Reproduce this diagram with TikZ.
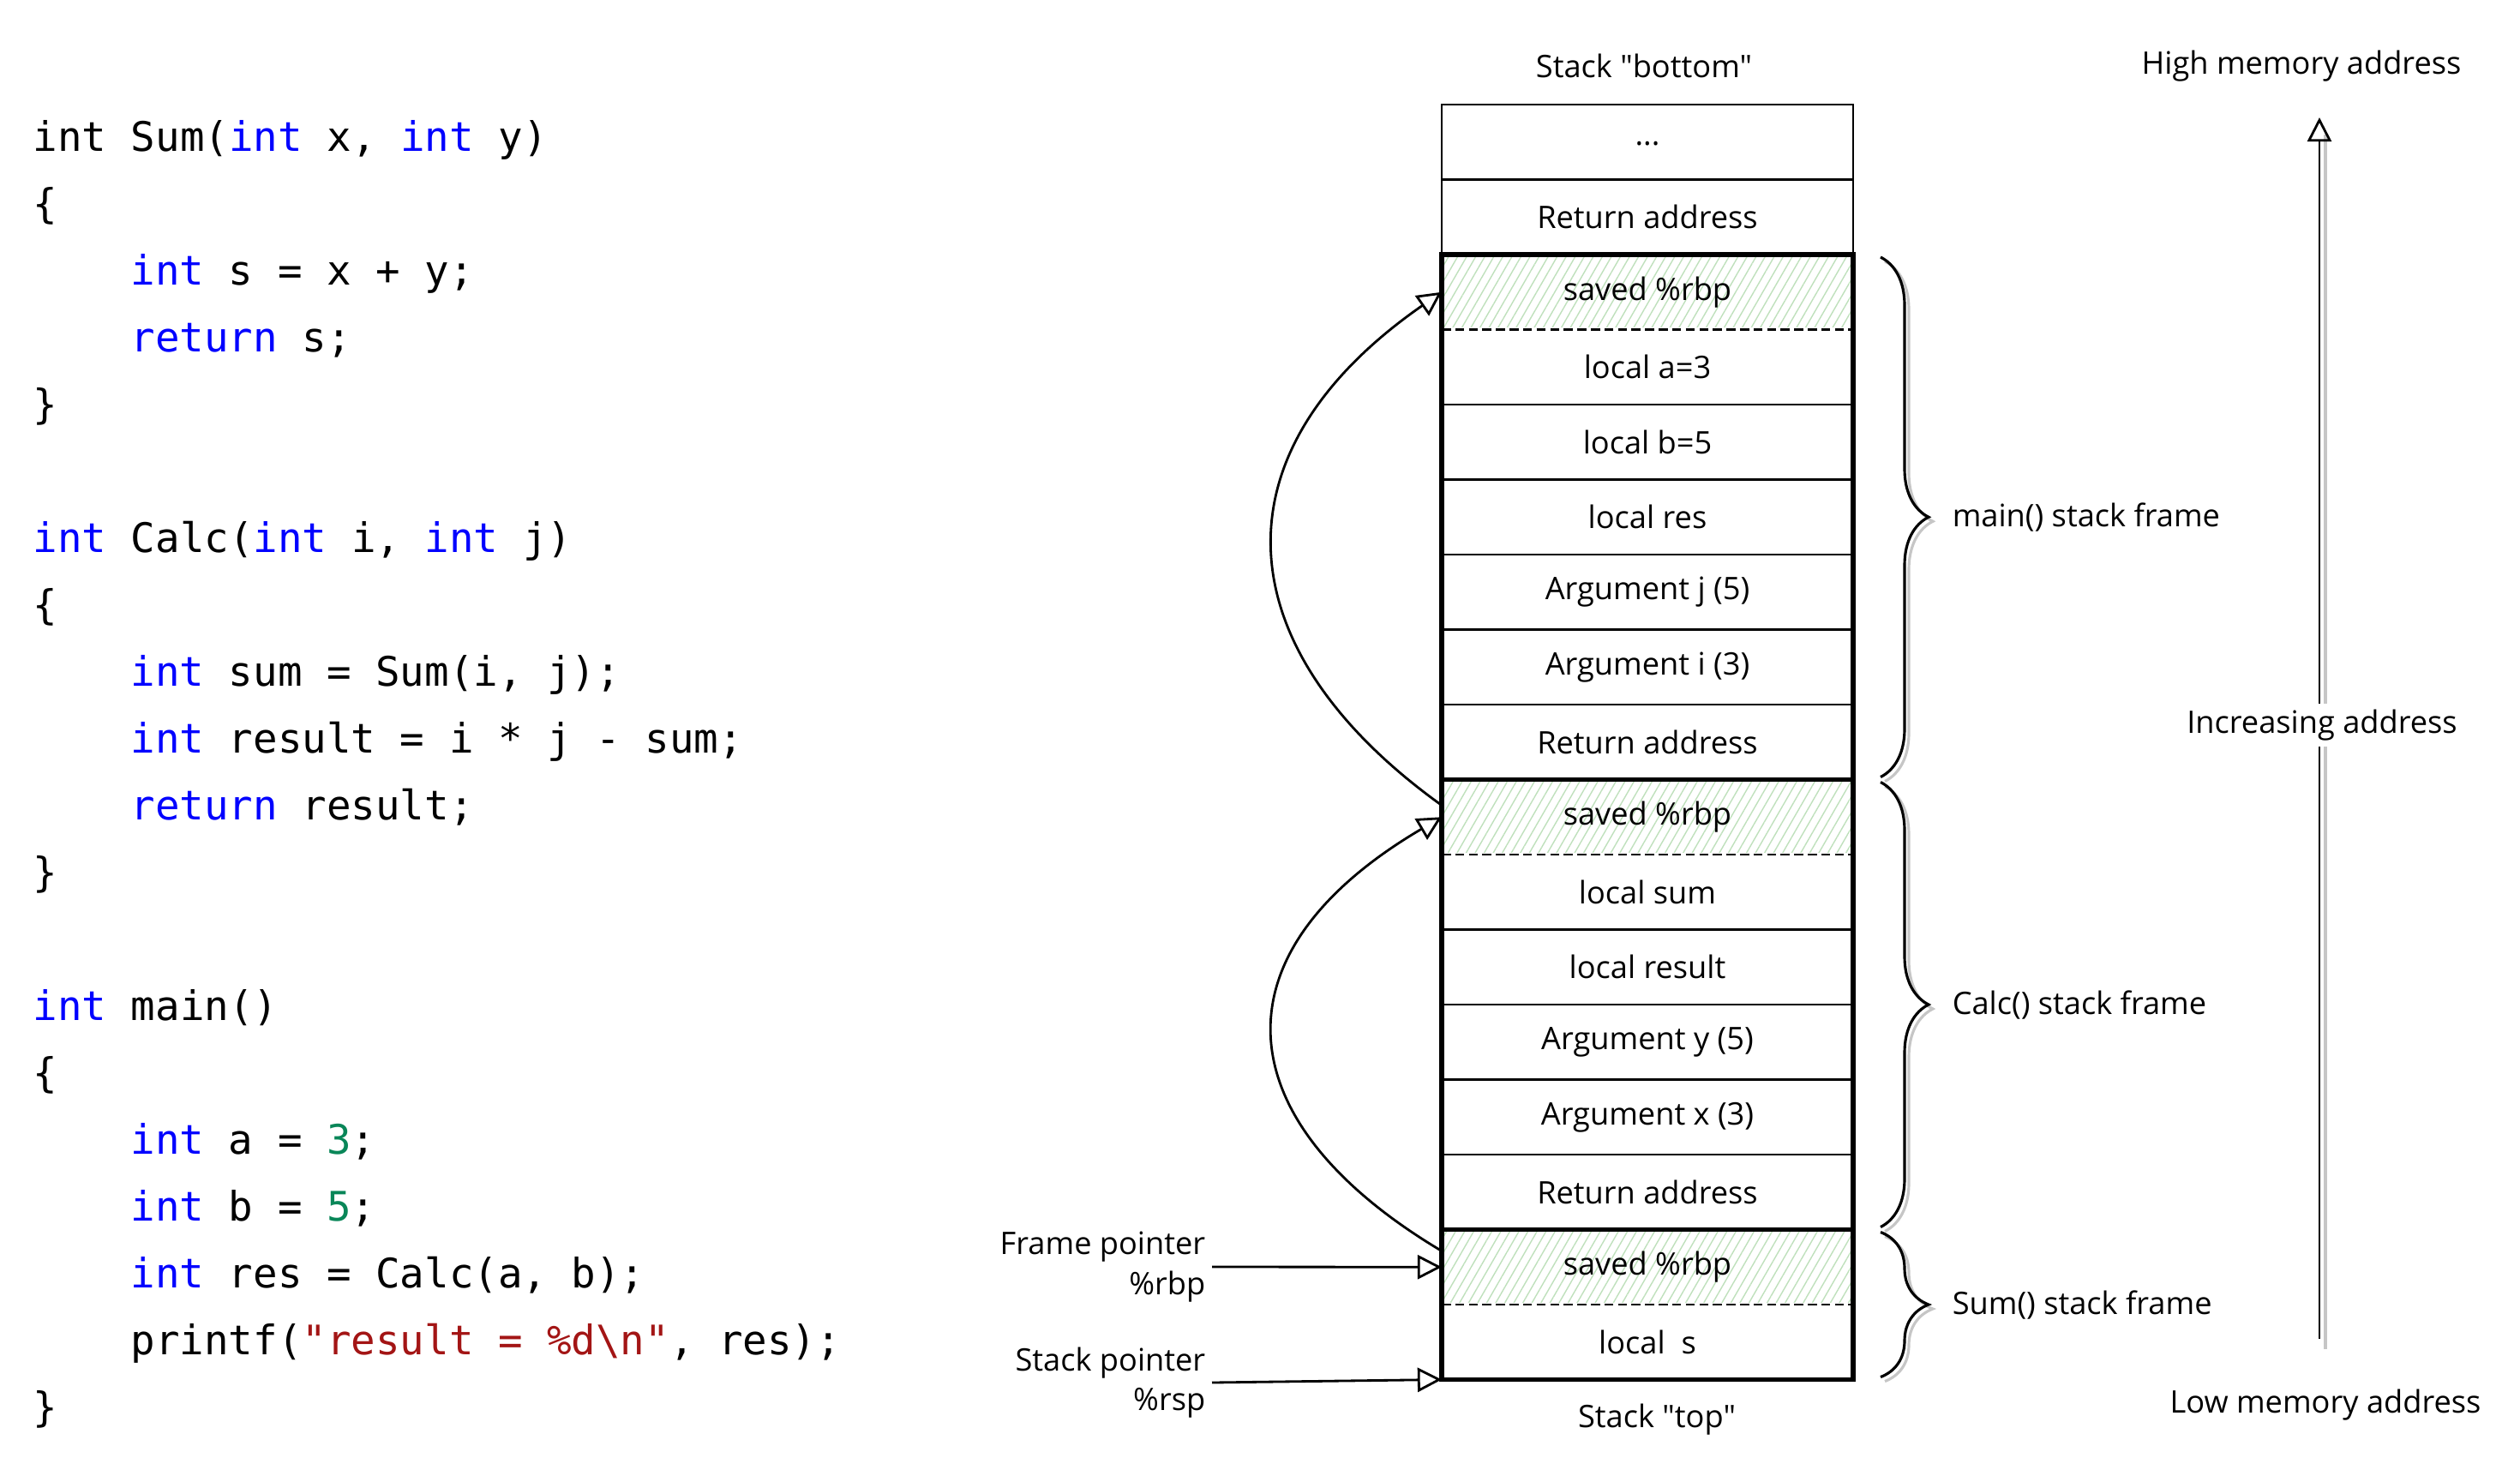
\documentclass[tikz,border=0pt]{standalone}
\usepackage{fontspec}
\setmainfont{Open Sans}[Ligatures=TeXOff]
\setmonofont{DejaVu Sans Mono}
\usepackage{tikz}
\usetikzlibrary{arrows.meta, positioning, calc, decorations.pathreplacing, patterns.meta}
\definecolor{kwBlue}{HTML}{0000FF}
\definecolor{numGreen}{HTML}{098658}
\definecolor{strRed}{HTML}{A31515}
\definecolor{hatchGreen}{HTML}{BFE0BC}
\newcommand{\kwd}[1]{\textcolor{kwBlue}{#1}}
\newcommand{\nmb}[1]{\textcolor{numGreen}{#1}}
\newcommand{\strl}[1]{\textcolor{strRed}{#1}}
\tikzstyle{codeline} = [anchor=base west, inner sep=0pt, font=\ttfamily\fontsize{13.5}{16}\selectfont]
\tikzstyle{lbl} = [inner sep=2pt, font=\fontsize{10.3}{13.3}\selectfont]
\tikzstyle{slot} = [rectangle, draw, line width=0.7pt, minimum width=4.8cm, minimum height=0.875cm,
  inner sep=0pt, outer sep=0pt, font=\fontsize{10.3}{12}\selectfont]
\tikzstyle{savedslot} = [slot, pattern={Lines[angle=60,distance=2.6pt,line width=0.4pt]}, pattern color=hatchGreen]
\tikzstyle{frame} = [line width=1.5pt]
\tikzstyle{brc} = [decorate, decoration={brace, amplitude=0.56cm}, line width=0.9pt]
\tikzstyle{brcshade} = [brc, draw=gray!45, transform canvas={shift={(0.05,-0.05)}}]
\tikzstyle{ptr} = [-{Triangle[open, length=8pt, width=8pt]}, line width=0.8pt]

\begin{document}
\begin{tikzpicture}
  \useasboundingbox (0,0) rectangle (29.4,-17.28);

  % Source code
  \node[codeline] (sum1) at (0.38,-1.76) {int Sum(\kwd{int} x, \kwd{int} y)};
  \node[codeline] (sum2) at (0.38,-2.54) {\{};
  \node[codeline] (sum3) at (1.52,-3.32) {\kwd{int} s = x + y;};
  \node[codeline] (sum4) at (1.52,-4.10) {\kwd{return} s;};
  \node[codeline] (sum5) at (0.38,-4.88) {\}};

  \node[codeline] (calc1) at (0.38,-6.44) {\kwd{int} Calc(\kwd{int} i, \kwd{int} j)};
  \node[codeline] (calc2) at (0.38,-7.22) {\{};
  \node[codeline] (calc3) at (1.52,-8.00) {\kwd{int} sum = Sum(i, j);};
  \node[codeline] (calc4) at (1.52,-8.78) {\kwd{int} result = i * j - sum;};
  \node[codeline] (calc5) at (1.52,-9.56) {\kwd{return} result;};
  \node[codeline] (calc6) at (0.38,-10.34) {\}};

  \node[codeline] (main1) at (0.38,-11.90) {\kwd{int} main()};
  \node[codeline] (main2) at (0.38,-12.68) {\{};
  \node[codeline] (main3) at (1.52,-13.46) {\kwd{int} a = \nmb{3};};
  \node[codeline] (main4) at (1.52,-14.24) {\kwd{int} b = \nmb{5};};
  \node[codeline] (main5) at (1.52,-15.02) {\kwd{int} res = Calc(a, b);};
  \node[codeline] (main6) at (1.52,-15.80) {printf(\strl{"result = \%d\textbackslash n"}, res);};
  \node[codeline] (main7) at (0.38,-16.58) {\}};

  % Stack slots
  \node[lbl] (bottomlbl) at (19.18,-0.77) {Stack "bottom"};
  \node[slot] (etc) at (19.22,-1.6575) {\raisebox{-2pt}{...}};
  \node[slot, below=0pt of etc] (ret0) {Return address};
  \node[savedslot, below=0pt of ret0] (mrbp) {saved \%rbp};
  \node[slot, below=0pt of mrbp] (ma) {local a=3};
  \node[slot, below=0pt of ma] (mb) {local b=5};
  \node[slot, below=0pt of mb] (mres) {local res};
  \node[slot, below=0pt of mres] (mj) {Argument j (5)};
  \node[slot, below=0pt of mj] (mi) {Argument i (3)};
  \node[slot, below=0pt of mi] (mret) {Return address};
  \node[savedslot, below=0pt of mret] (crbp) {saved \%rbp};
  \node[slot, below=0pt of crbp] (csum) {local sum};
  \node[slot, below=0pt of csum] (cres) {local result};
  \node[slot, below=0pt of cres] (cy) {Argument y (5)};
  \node[slot, below=0pt of cy] (cx) {Argument x (3)};
  \node[slot, below=0pt of cx] (cret) {Return address};
  \node[savedslot, below=0pt of cret] (srbp) {saved \%rbp};
  \node[slot, below=0pt of srbp] (ss) {local~~s};
  \node[lbl] (toplbl) at (19.33,-16.56) {Stack "top"};

  \foreach \r in {mrbp, crbp, srbp} {
    \draw[white, line width=1.2pt] (\r.south west) -- (\r.south east);
    \draw[line width=0.7pt, dash pattern=on 3pt off 1.5pt] (\r.south west) -- (\r.south east);
  }

  % Frames
  \draw[frame] (mrbp.north west) rectangle (mret.south east);
  \draw[frame] (crbp.north west) rectangle (cret.south east);
  \draw[frame] (srbp.north west) rectangle (ss.south east);

  % Braces
  \draw[brcshade] ($(mrbp.north east)+(0.32,-0.03)$) -- ($(mret.south east)+(0.32,0.03)$);
  \draw[brcshade] ($(crbp.north east)+(0.32,-0.03)$) -- ($(cret.south east)+(0.32,0.03)$);
  \draw[brcshade] ($(srbp.north east)+(0.32,-0.03)$) -- ($(ss.south east)+(0.32,0.03)$);
  \draw[brc] ($(mrbp.north east)+(0.32,-0.03)$) -- ($(mret.south east)+(0.32,0.03)$);
  \draw[brc] ($(crbp.north east)+(0.32,-0.03)$) -- ($(cret.south east)+(0.32,0.03)$);
  \draw[brc] ($(srbp.north east)+(0.32,-0.03)$) -- ($(ss.south east)+(0.32,0.03)$);
  \node[lbl, anchor=west] (lmain) at ($(mrbp.north east)!0.5!(mret.south east)+(1.08,0)$) {main() stack frame};
  \node[lbl, anchor=west] (lcalc) at ($(crbp.north east)!0.5!(cret.south east)+(1.08,0)$) {Calc() stack frame};
  \node[lbl, anchor=west] (lsum) at ($(srbp.north east)!0.5!(ss.south east)+(1.08,0)$) {Sum() stack frame};

  % Saved frame pointer links
  \draw[ptr] ($(crbp.north west)+(0,-0.3)$) .. controls +(-2.52,1.81) and +(-2.72,-1.89) .. (mrbp.west);
  \draw[ptr] ($(srbp.north west)+(0,-0.25)$) .. controls +(-2.52,1.5) and +(-2.72,-1.6) .. (crbp.west);

  % Registers
  \node[lbl, align=right, anchor=east] (fp) at (14.14,-14.78) {Frame pointer\\\%rbp};
  \node[lbl, align=right, anchor=east] (sp) at (14.14,-16.13) {Stack pointer\\\%rsp};
  \draw[ptr] (fp.east) -- (srbp.west);
  \draw[ptr] (sp.east) -- (ss.south west);

  % Address direction
  \node[lbl] (highlbl) at (26.85,-0.77) {High memory address};
  \node[lbl] (lowlbl) at (27.13,-16.39) {Low memory address};
  \coordinate (lowend) at (27.06,-15.62);
  \coordinate (highend) at (27.06,-1.37);
  \draw[gray!45, line width=0.9pt] ($(lowend)+(0.07,-0.12)$) -- ($(highend)+(0.07,-0.2)$);
  \draw[ptr] (lowend) -- (highend);
  \node[lbl, fill=white] (incr) at (27.09,-8.46) {Increasing address};
\end{tikzpicture}
\end{document}
